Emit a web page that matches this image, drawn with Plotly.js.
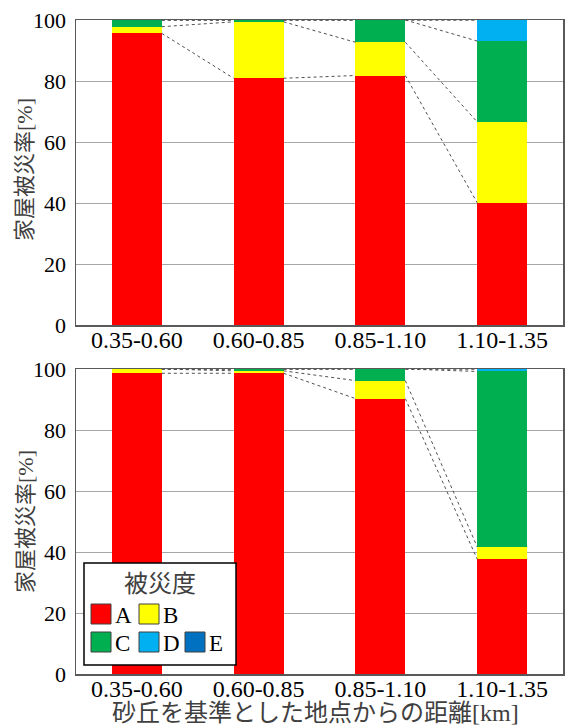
<!DOCTYPE html>
<html>
<head>
<meta charset="utf-8">
<script src="https://cdn.plot.ly/plotly-3.0.1.min.js"></script>
<style>html,body{margin:0;padding:0;background:#fff;}#chart{width:567px;height:728px;}</style>
</head>
<body>
<div id="chart"></div>
<script>
// ---- data ----
var categories = ["0.35-0.60", "0.60-0.85", "0.85-1.10", "1.10-1.35"];
var seriesNames = ["A", "B", "C", "D", "E"];
var seriesColors = ["#FF0000", "#FFFF00", "#00B050", "#00B0F0", "#0070C0"];

// upper chart (%)
var topA = [95.6, 80.9, 81.8, 40.1];
var topB = [2.2, 18.5, 10.9, 26.5];
var topC = [2.2, 0.6, 7.3, 26.5];
var topD = [0, 0, 0, 6.9];
var topE = [0, 0, 0, 0];

// lower chart (%)
var botA = [98.6, 98.6, 90.3, 37.7];
var botB = [1.4, 0.8, 5.9, 4.0];
var botC = [0, 0.6, 3.8, 57.5];
var botD = [0, 0, 0, 0.8];
var botE = [0, 0, 0, 0];

var yTickVals = [0, 20, 40, 60, 80, 100];
var legendTitle = "被災度";
var yTitle = "家屋被災率[%]";
var xTitle = "砂丘を基準とした地点からの距離[km]";

// ---- build ----
var FONT = '"Liberation Serif", "Times New Roman", Times, "Noto Sans CJK JP", serif';
var TICKFONT = "Liberation Serif";
var barW = 0.41;
var xIdx = categories.map(function (c, i) { return i; });
var traces = [];

function addChart(seriesVals, xa, ya) {
  seriesVals.forEach(function (vals, s) {
    traces.push({
      type: "bar", x: xIdx, y: vals, xaxis: xa, yaxis: ya,
      width: barW, name: seriesNames[s], showlegend: false,
      marker: { color: seriesColors[s], line: { width: 0 } },
      hoverinfo: "skip"
    });
  });
  // series lines (connect cumulative tops)
  var cum = xIdx.map(function () { return 0; });
  seriesVals.forEach(function (vals, s) {
    cum = cum.map(function (c, i) { return c + vals[i]; });
    var lx = [], ly = [];
    for (var i = 0; i < categories.length - 1; i++) {
      lx.push(i + barW / 2, i + 1 - barW / 2, null);
      ly.push(cum[i], cum[i + 1], null);
    }
    traces.push({
      type: "scatter", mode: "lines", x: lx, y: ly, xaxis: xa, yaxis: ya,
      showlegend: false, hoverinfo: "skip",
      line: { color: "#505050", width: 1, dash: "dot" }
    });
  });
}
addChart([topA, topB, topC, topD, topE], "x", "y");
addChart([botA, botB, botC, botD, botE], "x2", "y2");

function xAxis(anchor) {
  return {
    anchor: anchor, type: "linear", range: [-0.5, 3.5],
    tickvals: xIdx, ticktext: categories, ticks: "",
    showgrid: false, zeroline: false,
    showline: true, mirror: true, linecolor: "#595959", linewidth: 1.5,
    tickfont: { family: TICKFONT, size: 24, color: "#000" },
    ticklabelstandoff: -7,
    automargin: false
  };
}
function yAxis(anchor, domain) {
  return {
    anchor: anchor, domain: domain, range: [0, 100],
    tickvals: yTickVals, ticks: "",
    showgrid: true, gridcolor: "#a6a6a6", gridwidth: 1, zeroline: false,
    showline: true, mirror: true, linecolor: "#595959", linewidth: 1.5,
    tickfont: { family: TICKFONT, size: 22, color: "#000" },
    ticklabelstandoff: 4,
    automargin: false
  };
}

var plotH = 728 - 20 - 54;
var plotW = 487;
function pxX(px) { return (px - 76) / plotW; }
function pxY(py) { return 1 - (py - 20) / plotH; }

var layout = {
  width: 567, height: 728,
  margin: { l: 76, r: 4, t: 20, b: 54 },
  paper_bgcolor: "#fff", plot_bgcolor: "#fff",
  barmode: "stack", showlegend: false,
  font: { family: FONT },
  xaxis: xAxis("y"),
  yaxis: yAxis("x", [1 - 305 / plotH, 1]),
  xaxis2: xAxis("y2"),
  yaxis2: yAxis("x2", [0, 305 / plotH]),
  shapes: [],
  annotations: [
    { xref: "paper", yref: "paper", x: pxX(25), y: pxY(170), text: yTitle, textangle: -90,
      showarrow: false, xanchor: "center", yanchor: "middle",
      font: { family: FONT, size: 22, color: "#404040" } },
    { xref: "paper", yref: "paper", x: pxX(25), y: pxY(522), text: yTitle, textangle: -90,
      showarrow: false, xanchor: "center", yanchor: "middle",
      font: { family: FONT, size: 22, color: "#404040" } },
    { xref: "paper", yref: "paper", x: pxX(315), y: pxY(713), text: xTitle,
      showarrow: false, xanchor: "center", yanchor: "middle",
      font: { family: FONT, size: 24, color: "#404040" } }
  ]
};

// manual legend inside lower chart
function px2x(px) { return (px - 76) / 487; }
function py2y(py) { return (674 - py) / 305; }
layout.shapes.push({
  type: "rect", xref: "x2 domain", yref: "y2 domain",
  x0: px2x(84), x1: px2x(236), y0: py2y(665), y1: py2y(563),
  fillcolor: "#fff", line: { color: "#000", width: 1.5 }, layer: "above"
});
layout.annotations.push({
  xref: "x2 domain", yref: "y2 domain", x: px2x(160), y: py2y(584),
  text: legendTitle, showarrow: false, xanchor: "center", yanchor: "middle",
  font: { family: FONT, size: 24, color: "#404040" }
});
var legPos = [[91, 604], [139, 604], [91, 632], [139, 632], [185, 632]];
seriesNames.forEach(function (n, s) {
  var p = legPos[s];
  layout.shapes.push({
    type: "rect", xref: "x2 domain", yref: "y2 domain",
    x0: px2x(p[0]), x1: px2x(p[0] + 20), y0: py2y(p[1] + 20), y1: py2y(p[1]),
    fillcolor: seriesColors[s], line: { color: "#404040", width: 1 }, layer: "above"
  });
  layout.annotations.push({
    xref: "x2 domain", yref: "y2 domain", x: px2x(p[0] + 22), y: py2y(p[1] + 11),
    text: n, showarrow: false, xanchor: "left", yanchor: "middle",
    font: { family: FONT, size: 23, color: "#000" }
  });
});

Plotly.newPlot("chart", traces, layout, { staticPlot: true, displayModeBar: false });
</script>
</body>
</html>
